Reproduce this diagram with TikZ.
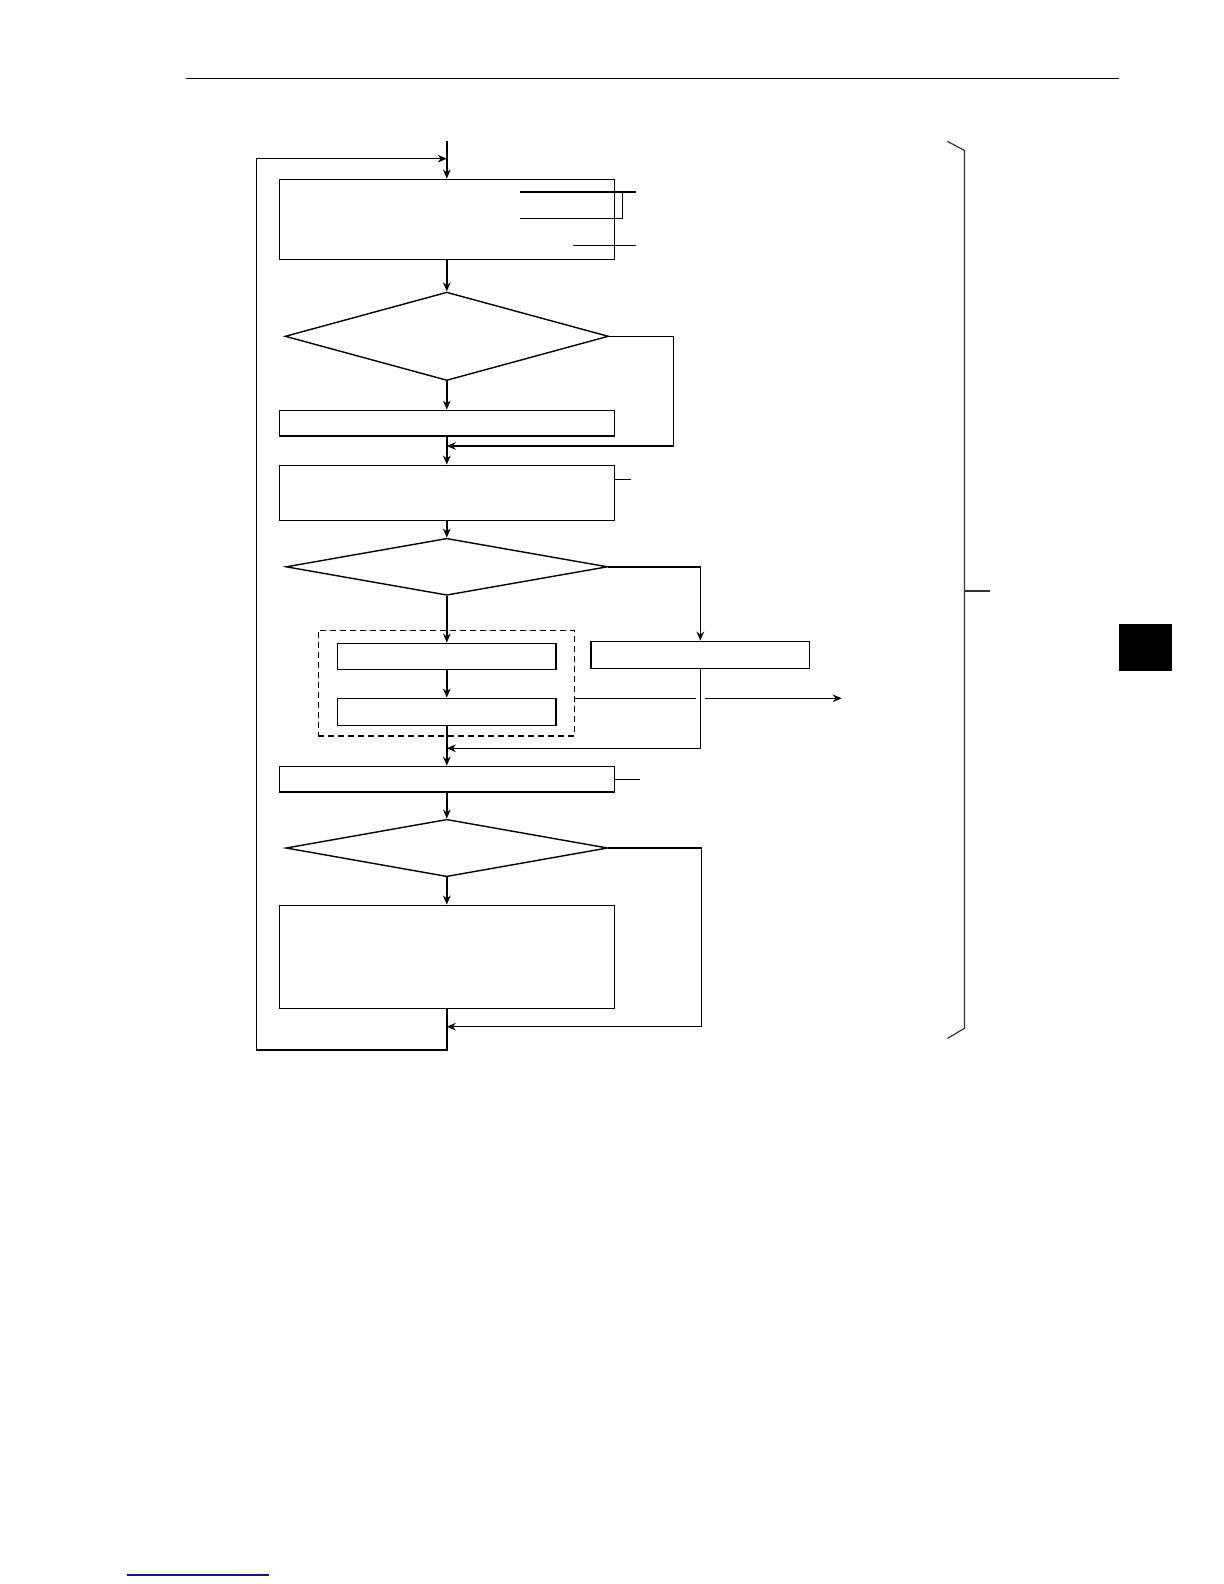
\documentclass[tikz,border=0pt]{standalone}
\usepackage{tikz}
\usepackage{xcolor}
\usetikzlibrary{shapes.geometric,arrows.meta}
\definecolor{rule-blue}{RGB}{20,20,140}
\tikzset{
    flow-box/.style = {draw, rectangle, inner sep=0pt, line width=0.7pt},
    flow-diamond/.style = {draw, diamond, inner sep=0pt, line width=0.7pt},
    group-box/.style = {draw, rectangle, dashed, dash pattern=on 3pt off 2pt, inner sep=0pt, line width=0.6pt},
    flow-arrow/.style = {-{Stealth[length=4.5pt,width=3.8pt]}, line width=0.7pt},
    flow-line/.style = {line width=0.7pt},
}

\begin{document}
\begin{tikzpicture}[x=0.5pt,y=-0.5pt]
\useasboundingbox (0,0) rectangle (1224,1584);
% page rules and tab
\draw[line width=0.7pt] (186,78.3) -- (1119,78.3);
\draw[rule-blue, line width=0.8pt] (126.7,1575) -- (269,1575);
\fill (1119,624) rectangle (1172,671);
% main column
\node[flow-box, minimum width=167.5pt, minimum height=40pt] (sense-box) at (446.8,219.3) {};
\node[flow-diamond, minimum width=161.7pt, minimum height=44.2pt] (check-one) at (446.8,336.3) {};
\node[flow-box, minimum width=167.5pt, minimum height=12.85pt] (set-box) at (446.8,423.2) {};
\node[flow-box, minimum width=167.5pt, minimum height=27.5pt] (calc-box) at (446.8,492.8) {};
\node[flow-diamond, minimum width=160.8pt, minimum height=28.5pt] (check-two) at (446.8,566.8) {};
\node[group-box, minimum width=128.1pt, minimum height=52.85pt] (group) at (446.2,683.2) {};
\node[flow-box, minimum width=109.2pt, minimum height=13pt] (step-a) at (446.8,656.3) {};
\node[flow-box, minimum width=109.2pt, minimum height=13.5pt] (step-b) at (446.8,711.8) {};
\node[flow-box, minimum width=109.35pt, minimum height=13.5pt] (alt-box) at (700.3,654.8) {};
\node[flow-box, minimum width=167.5pt, minimum height=12.85pt] (out-box) at (446.8,779.2) {};
\node[flow-diamond, minimum width=160.85pt, minimum height=28.7pt] (check-three) at (446.8,848) {};
\node[flow-box, minimum width=167.5pt, minimum height=51.5pt] (end-box) at (446.8,956.8) {};
% helper points
\coordinate (entry) at (446.8,140.7);
\coordinate (loop-in) at (446.8,158.7);
\coordinate (loop-low) at (256.7,1050);
\coordinate (skip-one) at (673.3,446);
\coordinate (merge-one) at (446.8,446);
\coordinate (merge-two) at (446.8,748.3);
\coordinate (skip-three) at (701.7,1026.7);
\coordinate (merge-three) at (446.8,1026.7);
\coordinate (hop-l) at (695.8,698.3);
\coordinate (hop-r) at (704.9,698.3);
\coordinate (out-end) at (841.7,698.3);
% connectors
\draw[flow-arrow] (entry) -- (sense-box.north);
\draw[flow-arrow] (end-box.south) |- (loop-low) |- (loop-in);
\draw[flow-arrow] (sense-box.south) -- (check-one.north);
\draw[flow-arrow] (check-one.south) -- (set-box.north);
\draw[flow-arrow] (check-one.east) -| (skip-one) -- (merge-one);
\draw[flow-arrow] (set-box.south) -- (calc-box.north);
\draw[flow-arrow] (calc-box.south) -- (check-two.north);
\draw[flow-arrow] (check-two.south) -- (step-a.north);
\draw[flow-arrow] (check-two.east) -| (alt-box.north);
\draw[flow-arrow] (step-a.south) -- (step-b.north);
\draw[flow-arrow] (step-b.south) -- (out-box.north);
\draw[flow-arrow] (alt-box.south) |- (merge-two);
\draw[flow-line] (group.east |- hop-l) -- (hop-l);
\draw[flow-arrow] (hop-r) -- (out-end);
\draw[flow-arrow] (out-box.south) -- (check-three.north);
\draw[flow-arrow] (check-three.south) -- (end-box.north);
\draw[flow-arrow] (check-three.east) -| (skip-three) -- (merge-three);
% leader lines
\draw[flow-line] (520,192) -- (636,192);
\draw[flow-line] (520,218.3) -- (622.3,218.3) -- (622.3,192);
\draw[flow-line] (573,245.3) -- (636,245.3);
\draw[flow-line] (calc-box.east |- 0,479.3) -- (631.3,479.3);
\draw[flow-line] (out-box.east |- 0,779.3) -- (640,779.3);
% brace
\draw[line width=0.6pt, black!80] (947.5,141.4) -- (964.5,150.5) -- (964.5,1028.3) -- (947.5,1038.4);
\draw[line width=0.6pt, black!80] (964.5,591) -- (990,591);
\end{tikzpicture}
\end{document}
